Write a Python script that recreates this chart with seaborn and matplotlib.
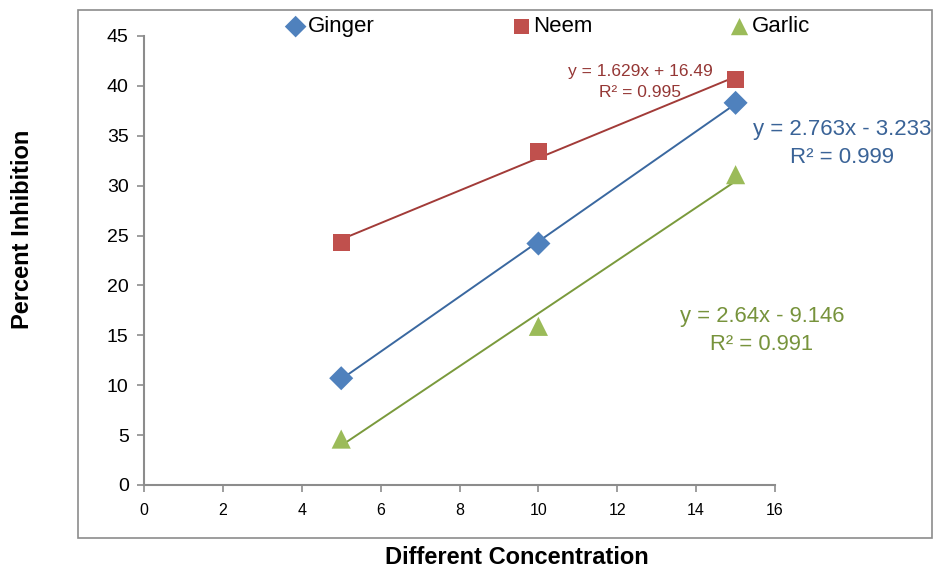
import numpy as np
import pandas as pd
import matplotlib
matplotlib.use("Agg")
import matplotlib.pyplot as plt
import seaborn as sns
from matplotlib.patches import Rectangle

# data
conc = [5, 10, 15]
ginger = [10.7, 24.2, 38.3]
neem = [24.3, 33.4, 40.6]
garlic = [4.6, 15.9, 31.1]

series_names = ["Ginger", "Neem", "Garlic"]
marker_colors = ["#4F81BD", "#C0504D", "#9BBB59"]
line_colors = ["#3A68A0", "#A23B38", "#7A9A3C"]
text_colors = ["#3A6397", "#953735", "#77933C"]
markers = ["D", "s", "^"]
equations = ["y = 2.763x - 3.233\nR² = 0.999",
             "y = 1.629x + 16.49\nR² = 0.995",
             "y = 2.64x - 9.146\nR² = 0.991"]

sns.set_theme(style="white")
plt.rcParams["font.family"] = ["Liberation Sans", "DejaVu Sans"]

fig = plt.figure(figsize=(9.34, 5.73), dpi=100)
ax = fig.add_axes([0.1542, 0.1536, 0.6756, 0.7836])

# outer chart border
fig.patches.append(Rectangle((0.0835, 0.061), 0.9145, 0.9215, transform=fig.transFigure,
                             fill=False, edgecolor="#8C8C8C", linewidth=1.2))

values = [ginger, neem, garlic]
sizes = [150, 150, 190]
for name, vals, mc, lc, mk, sz in zip(series_names, values, marker_colors, line_colors, markers, sizes):
    df = pd.DataFrame({"x": conc, "y": vals})
    sns.regplot(data=df, x="x", y="y", ax=ax, ci=None, scatter=False,
                line_kws={"color": lc, "linewidth": 1.4})
    sns.scatterplot(data=df, x="x", y="y", ax=ax, marker=mk, s=sz, color=mc,
                    edgecolor="none", label=name, zorder=3)

# trendline equations
ax.text(17.7, 34.2, equations[0], color=text_colors[0], fontsize=16, ha="center",
        va="center", linespacing=1.45, clip_on=False)
ax.text(12.58, 40.4, equations[1], color=text_colors[1], fontsize=12.5, ha="center",
        va="center", linespacing=1.45)
ax.text(15.67, 15.5, equations[2], color=text_colors[2], fontsize=15.8, ha="center",
        va="center", linespacing=1.45)

ax.set_xlim(0, 16)
ax.set_ylim(0, 45)
ax.set_xticks(range(0, 17, 2))
ax.set_yticks(range(0, 46, 5))
ax.tick_params(axis="x", labelsize=11.5, direction="out", length=5, width=1.2,
               color="#8C8C8C", labelcolor="black", bottom=True, pad=8)
ax.tick_params(axis="y", labelsize=14, direction="out", length=5, width=1.2,
               color="#8C8C8C", labelcolor="black", left=True, pad=6)
for side in ["top", "right"]:
    ax.spines[side].set_visible(False)
for side in ["left", "bottom"]:
    ax.spines[side].set_color("#8C8C8C")
    ax.spines[side].set_linewidth(1.5)

ax.set_xlabel("")
ax.set_ylabel("")
fig.text(0.553, 0.027, "Different Concentration", fontsize=17, fontweight="bold",
         ha="center", va="center", color="black")
fig.text(0.024, 0.6, "Percent Inhibition", fontsize=17, fontweight="bold",
         ha="center", va="center", rotation=90, color="black")

handles, labels = ax.get_legend_handles_labels()
ax.get_legend().remove()
leg = fig.legend(handles, labels, ncol=3, loc="center", bbox_to_anchor=(0.586, 0.953),
                 frameon=False, fontsize=16, handletextpad=0.05, columnspacing=6.1,
                 markerscale=0.9, handlelength=1.0)
for t in leg.get_texts():
    t.set_color("black")

fig.savefig("out.png", dpi=100)
